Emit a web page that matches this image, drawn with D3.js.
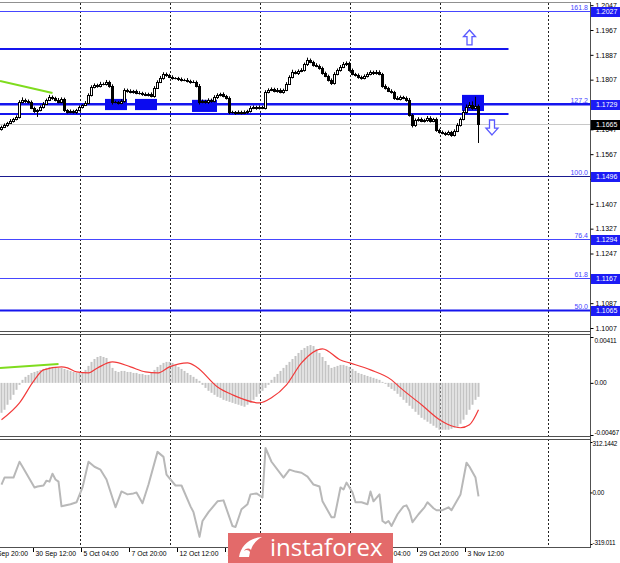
<!DOCTYPE html>
<html><head><meta charset="utf-8">
<script src="https://cdn.jsdelivr.net/npm/d3@7"></script>
<style>body{margin:0;background:#fff}svg{display:block;font-family:"Liberation Sans",Arial,sans-serif}</style>
</head><body><svg id="c" width="620" height="563"></svg>
<script>
// ---------- DATA ----------
const firstOpen = 1.1648;
const closes = [
1.1655,1.1661,1.1668,1.1674,1.1680,1.1687,1.1735,1.1742,1.1738,1.1735,
1.1716,1.1706,1.1709,1.1719,1.1729,1.1742,1.1751,1.1748,1.1742,1.1735,
1.1745,1.1709,1.1703,1.1706,1.1703,1.1709,1.1719,1.1725,1.1732,1.1758,
1.1783,1.1790,1.1787,1.1793,1.1793,1.1800,1.1787,1.1735,1.1735,1.1732,
1.1738,1.1774,1.1771,1.1767,1.1771,1.1764,1.1764,1.1761,1.1758,1.1761,
1.1754,1.1780,1.1800,1.1812,1.1825,1.1822,1.1816,1.1812,1.1812,1.1809,
1.1806,1.1806,1.1803,1.1800,1.1800,1.1787,1.1735,1.1738,1.1735,1.1742,
1.1738,1.1751,1.1758,1.1761,1.1754,1.1748,1.1703,1.1703,1.1700,1.1703,
1.1700,1.1703,1.1706,1.1716,1.1719,1.1716,1.1719,1.1716,1.1767,1.1774,
1.1777,1.1771,1.1774,1.1767,1.1774,1.1793,1.1816,1.1832,1.1828,1.1835,
1.1838,1.1857,1.1870,1.1864,1.1854,1.1851,1.1845,1.1828,1.1819,1.1806,
1.1796,1.1825,1.1838,1.1848,1.1857,1.1861,1.1838,1.1825,1.1822,1.1816,
1.1812,1.1819,1.1825,1.1832,1.1828,1.1832,1.1825,1.1787,1.1780,1.1771,
1.1767,1.1748,1.1745,1.1751,1.1748,1.1742,1.1693,1.1661,1.1677,1.1680,
1.1674,1.1677,1.1684,1.1674,1.1680,1.1645,1.1638,1.1635,1.1632,1.1638,
1.1629,1.1642,1.1661,1.1680,1.1703,1.1719,1.1725,1.1716,1.1722,1.1664];
// wick lengths beyond the body, in pips
const wickUp = [
4,5,3,6,4,5,6,8,4,5, 5,4,3,5,6,4,7,5,4,6, 5,4,3,5,4,4,5,3,6,5, 6,5,4,7,5,6,4,5,4,3,
6,5,4,5,3,4,6,4,5,4, 5,6,5,7,6,5,4,5,3,4, 5,4,6,4,5,4,6,5,4,5, 4,6,5,4,5,4,5,4,3,5,
4,5,4,6,5,4,5,4,6,5, 5,4,6,5,4,6,5,7,4,5, 6,5,8,5,4,6,5,4,5,4, 5,6,5,6,7,5,4,5,4,5,
4,5,6,5,4,6,5,4,5,4, 5,4,6,5,4,5,6,4,5,6, 5,4,6,5,4,5,4,5,4,5, 4,5,6,5,6,8,10,12,30,5];
const wickDn = [
5,4,6,3,5,4,5,4,6,5, 4,6,19,4,5,3,4,6,5,4, 4,6,5,4,5,6,4,5,3,4, 5,4,6,5,4,5,6,8,4,5,
4,5,6,4,5,4,5,6,4,5, 4,5,3,4,5,6,4,5,4,6, 5,4,5,6,4,5,8,4,5,6, 5,4,6,5,4,5,7,5,6,4,
5,4,6,5,4,6,5,4,5,4, 4,5,6,4,5,4,3,5,4,6, 4,5,6,4,5,4,6,5,4,5, 6,5,4,5,4,6,5,4,5,6,
5,4,5,4,6,5,4,6,5,4, 5,6,4,5,4,6,5,8,6,5, 4,5,6,5,4,6,5,4,6,5, 6,5,4,5,4,5,4,6,5,61];
// MACD histogram (x 1e-5)
const macdHist = [
-268,-241,-196,-152,-107,-62,-18, 27,54,71,89,98,107,116,
125,134,143,143,143,134,134,125,116, 107,98,89,89,98,116,
152,188,214,232,241,232,223, 188,134,107,98,
107,107,98,98,89,89,80,80,71,71, 89,116,143,161,179,188,188,179,
161,143,125,107,89,71,54,36,18,
-18,-45,-71,-89,-107,-125,-134,-152,-161,-170,-179,-188,-196,-205,-214,
-196,-179,-152,-125,-98,-71,-45,-18,
27,54,80,107,134,161,188,214,241,268, 295,313,330,339,330, 304,268,232,196,161,134,
143,152,161,161,152,143,125, 107,89,80,71,62,54,45,36,27, 9,-9,
-36,-54,-71,-98,-125,-152,-179,-205,-232,-259,-286,-313,-330,-348,-366,-384,-402,-420,
-420,-420,-420,-411,-402,-393, -366,-330,-286,-241,-196,-152,-125];
// MACD signal line (bar index, value x 1e-5)
const signalBar = [0,6,11,14,20,22,25,29,32,37,43,48,52,56,62,65,72,77,86,90,95,100,107,113,116,123,130,133,140,146,151,153,156,159];
const signalVal = [-330,-179,27,116,143,134,98,89,134,188,143,98,89,143,179,143,-36,-107,-179,-134,-18,179,304,205,179,116,27,-45,-196,-330,-393,-402,-375,-241];
// CCI (bar index, value)
const cciBar = [0,1,4,6,7,11,12,14,15,16,17,18,19,20,23,25,27,29,31,33,35,38,40,42,44,45,47,49,52,54,55,58,60,63,64,66,67,69,72,74,77,78,80,82,83,85,87,88,90,94,96,98,100,102,104,106,107,110,111,113,114,115,117,118,120,122,123,124,126,127,128,129,130,132,134,135,136,137,139,141,142,144,145,147,149,150,153,155,156,158,159];
const cciVal = [49,92,92,190,159,31,37,43,73,67,116,80,67,-86,-73,-61,31,190,159,141,80,-92,6,-12,-6,0,-67,49,251,220,110,43,43,-86,-122,-275,-177,-122,-55,-49,-208,-214,-104,-73,-12,-6,-31,275,190,92,141,129,122,98,49,37,-55,-153,-153,31,18,61,0,-61,-61,-73,6,-55,-12,-177,-190,-177,-208,-135,-86,-80,-116,-184,-135,-92,-61,-98,-110,-110,-92,-110,-12,184,159,92,-24];
const priceTicks = [1.2047,1.1967,1.1887,1.1807,1.1647,1.1567,1.1487,1.1407,1.1327,1.1247,1.1087,1.1007];
const fibLevels = [1.2027,1.1729,1.1496,1.1294,1.1167,1.1065];
const fibNames = ["161.8","127.2","100.0","76.4","61.8","50.0"];
const currentPrice = 1.1665;
const userLevels = [1.1906,1.1729,1.1696];
const userLevelEnd = [169,200,169];
const zoneStart = [35,45,64,154], zoneEnd = [42,52,72,161];
const zoneTop = [1.1745,1.1745,1.1742,1.1758], zoneBot = [1.1709,1.1709,1.1703,1.1706];
const trendBar = [0,17], trendPrice = [1.1803,1.1764];
const macdTrendBar = [0,19], macdTrendVal = [134,170];
const arrowUp = {bar:156, top:1.1967, bottom:1.1919};
const arrowDown = {bar:163.5, top:1.1677, bottom:1.1629};
const macdTicks = [0.00411,0,-0.00467], macdTickLabels = ["0.00411","0.00","-0.00467"];
const cciTicks = [312.1442,0,-319.011], cciTickLabels = ["312.1442","0.00","-319.011"];
const timeBars = [-5,11,27,43,59,75,91,107,123,139,155];
const timeLabels = ["25 Sep 20:00","30 Sep 12:00","5 Oct 04:00","7 Oct 20:00","12 Oct 12:00","15 Oct 04:00","19 Oct 20:00","22 Oct 12:00","27 Oct 04:00","29 Oct 20:00","3 Nov 12:00"];
const weekBars = [26,56,86,116,146,182];

// ---------- LAYOUT ----------
const W = 620, R = 590;
const svg = d3.select("#c");
const x = d3.scaleLinear().domain([0,1]).range([1.5,4.5]);
const yP = d3.scaleLinear().domain([1.1007,1.1967]).range([328,30]);
const yM = d3.scaleLinear().domain([-0.00467,0.00411]).range([435,337]);
const yC = d3.scaleLinear().domain([-319.011,312.1442]).range([544,442]);
const FS = "7px";
const WM = {x0:228, x1:393};

const defs = svg.append("defs");
function clip(id,y0,y1){defs.append("clipPath").attr("id",id).append("rect").attr("x",0).attr("y",y0).attr("width",R).attr("height",y1-y0);}
clip("cm",3,331); clip("cd",335,436); clip("cc",440,547);

// grid
const gridG = svg.append("g");
weekBars.forEach(b=>{
  const gx = Math.round(x(b))+0.5;
  gridG.append("line").attr("x1",gx).attr("x2",gx)
    .attr("y1",3).attr("y2",548).attr("stroke","#222").attr("stroke-dasharray","2,2").attr("stroke-width",1);
});

// ---------- MAIN PANEL ----------
const m = svg.append("g").attr("clip-path","url(#cm)");
m.append("line").attr("x1",0).attr("x2",R).attr("y1",Math.round(yP(currentPrice))+0.5).attr("y2",Math.round(yP(currentPrice))+0.5)
  .attr("stroke","#c8c8c8");
fibLevels.forEach((v,i)=>{
  const yy = Math.round(yP(v))+0.5;
  const thick = (i===1||i===5);
  m.append("line").attr("x1",0).attr("x2",R).attr("y1",yy).attr("y2",yy)
   .attr("stroke", i===2 ? "#1a1a90" : (thick?"#1515ee":"#4646ff")).attr("stroke-width",thick?2:1);
  m.append("text").attr("x",R-2).attr("y",yy-2).attr("text-anchor","end").attr("font-size",FS)
   .attr("fill","#4646ff").text(fibNames[i]);
});
userLevels.forEach((v,i)=>{
  const yy = Math.round(yP(v));
  m.append("line").attr("x1",0).attr("x2",x(userLevelEnd[i])).attr("y1",yy).attr("y2",yy)
   .attr("stroke","#1515ee").attr("stroke-width",2);
});
zoneStart.forEach((s,i)=>{
  m.append("rect").attr("x",x(s)-1.5).attr("width",x(zoneEnd[i])-x(s)+1)
   .attr("y",yP(zoneTop[i])).attr("height",yP(zoneBot[i])-yP(zoneTop[i])).attr("fill","#0b0bf0");
});
const cg = m.append("g");
closes.forEach((c,i)=>{
  const o = i===0 ? firstOpen : closes[i-1];
  const hi = Math.max(o,c) + wickUp[i]*0.0001, lo = Math.min(o,c) - wickDn[i]*0.0001;
  const cx = x(i);
  cg.append("line").attr("x1",cx).attr("x2",cx).attr("y1",yP(hi)).attr("y2",yP(lo)).attr("stroke","#000");
  const yt = Math.round(yP(Math.max(o,c)))+0.5, yb = Math.round(yP(Math.min(o,c)))+0.5;
  cg.append("rect").attr("x",cx-1).attr("width",2).attr("y",yt).attr("height",Math.max(yb-yt,0.01))
    .attr("fill", c>=o ? "#fff" : "#000").attr("stroke","#000").attr("stroke-width",1);
});
m.append("line").attr("x1",x(trendBar[0])-1.5).attr("x2",x(trendBar[1])).attr("y1",yP(trendPrice[0])).attr("y2",yP(trendPrice[1]))
  .attr("stroke","#7fdc1e").attr("stroke-width",2);
function arrow(a, up){
  const cx = x(a.bar), t = yP(a.top), b = yP(a.bottom), h = b - t, head = h*0.45;
  let p;
  if(up) p = [[cx,t],[cx+6,t+head],[cx+2.5,t+head],[cx+2.5,b],[cx-2.5,b],[cx-2.5,t+head],[cx-6,t+head]];
  else p = [[cx,b],[cx+6,b-head],[cx+2.5,b-head],[cx+2.5,t],[cx-2.5,t],[cx-2.5,b-head],[cx-6,b-head]];
  m.append("path").attr("d","M"+p.map(q=>q.join(",")).join("L")+"Z").attr("fill","#fff").attr("stroke","#5a5aff").attr("stroke-width",1.3);
}
arrow(arrowUp,true); arrow(arrowDown,false);

// ---------- MACD PANEL ----------
const d = svg.append("g").attr("clip-path","url(#cd)");
macdHist.forEach((v,i)=>{
  const y0 = yM(0), y1 = yM(v*1e-5);
  d.append("rect").attr("x",x(i)-1).attr("width",2).attr("y",Math.min(y0,y1)).attr("height",Math.abs(y1-y0)).attr("fill","#c4c4c4");
});
d.append("path").datum(signalBar.map((b,i)=>[b,signalVal[i]]))
  .attr("d",d3.line().x(p=>x(p[0])).y(p=>yM(p[1]*1e-5)).curve(d3.curveMonotoneX))
  .attr("fill","none").attr("stroke","#f23a3a").attr("stroke-width",1.2);
d.append("line").attr("x1",x(macdTrendBar[0])-1.5).attr("x2",x(macdTrendBar[1])).attr("y1",yM(macdTrendVal[0]*1e-5)).attr("y2",yM(macdTrendVal[1]*1e-5))
  .attr("stroke","#7fdc1e").attr("stroke-width",2);

// ---------- CCI PANEL ----------
const cc = svg.append("g").attr("clip-path","url(#cc)");
cc.append("path").datum(cciBar.map((b,i)=>[b,cciVal[i]]))
  .attr("d",d3.line().x(p=>x(p[0])).y(p=>yC(p[1])))
  .attr("fill","none").attr("stroke","#b8b8b8").attr("stroke-width",2).attr("stroke-linejoin","round");

// ---------- BORDERS ----------
const bd = svg.append("g").attr("stroke","#505050").attr("fill","none");
bd.append("line").attr("x1",0).attr("x2",R).attr("y1",2.5).attr("y2",2.5).attr("stroke","#909090");
[331.5,334.5,436.5,439.5,547.5].forEach(yy=>bd.append("line").attr("x1",0).attr("x2",R+0.5).attr("y1",yy).attr("y2",yy));
bd.append("line").attr("x1",R+0.5).attr("x2",R+0.5).attr("y1",2).attr("y2",548);

// ---------- AXES ----------
function styleAxis(g, fs){
  g.select(".domain").remove();
  g.selectAll("line").attr("stroke","#000");
  g.selectAll("text").attr("font-size",fs).attr("fill","#000").attr("font-family","Liberation Sans, Arial, sans-serif");
}
const axP = svg.append("g").attr("transform",`translate(${R+0.5},0)`)
  .call(d3.axisRight(yP).tickValues(priceTicks).tickSize(3).tickPadding(2).tickFormat(d3.format(".4f")));
styleAxis(axP, FS);
const axM = svg.append("g").attr("transform",`translate(${R+0.5},0)`)
  .call(d3.axisRight(yM).tickValues(macdTicks).tickSize(3).tickPadding(1).tickFormat((v,i)=>macdTickLabels[i]));
styleAxis(axM, "6.6px");
const axC = svg.append("g").attr("transform",`translate(${R+0.5},0)`)
  .call(d3.axisRight(yC).tickValues(cciTicks).tickSize(2).tickPadding(0).tickFormat((v,i)=>cciTickLabels[i]));
styleAxis(axC, "6.4px");
axM.selectAll("text").attr("letter-spacing","-0.2px");
axC.selectAll("text").attr("letter-spacing","-0.25px");
axM.selectAll(".tick").filter((v,i)=>i===0).select("text").attr("dy","0.9em");
axM.selectAll(".tick").filter((v,i)=>i===2).select("text").attr("dy","-0.1em");
axC.selectAll(".tick").filter((v,i)=>i===0).select("text").attr("dy","0.5em");
axC.selectAll(".tick").filter((v,i)=>i===2).select("text").attr("dy","0.1em");

const boxes = fibLevels.map(v=>({v,fill:"#1c1cf5"})).concat([{v:currentPrice,fill:"#000"}]);
boxes.forEach(b=>{
  const yy = Math.round(yP(b.v));
  svg.append("rect").attr("x",R+1).attr("y",yy-4).attr("width",W-R-1).attr("height",10).attr("fill",b.fill);
  svg.append("text").attr("x",R+6).attr("y",yy+1).attr("dy","0.32em").attr("font-size",FS).attr("fill","#fff").text(d3.format(".4f")(b.v));
});

// time axis (labels fully hidden by the watermark are not drawn)
const ta = svg.append("g");
timeBars.forEach((b,i)=>{
  const tx = Math.round(x(b)-1.5)+0.5;
  ta.append("line").attr("x1",tx).attr("x2",tx).attr("y1",548).attr("y2",552).attr("stroke","#000");
  if (tx+2 > WM.x0 + 2 && tx + 42 < WM.x1) return;
  ta.append("text").attr("x",tx+2).attr("y",556).attr("font-size","6.8px").attr("fill","#000").text(timeLabels[i]);
});

// ---------- WATERMARK ----------
const wm = svg.append("g");
wm.append("rect").attr("x",WM.x0).attr("y",533).attr("width",WM.x1-WM.x0).attr("height",30).attr("fill","#e36a6a");
wm.append("path").attr("d","M239,557 C241,546 249,538 262,537 C255,541 252,546 251,550 C249,548 246,548 244,551 C246,549 249,550 250,552 L249,557 Z")
  .attr("fill","#fff");
wm.append("text").attr("x",270).attr("y",556).attr("font-family","Open Sans, sans-serif").attr("font-size","24px")
  .attr("fill","#fff").text("instaforex");
</script></body></html>
